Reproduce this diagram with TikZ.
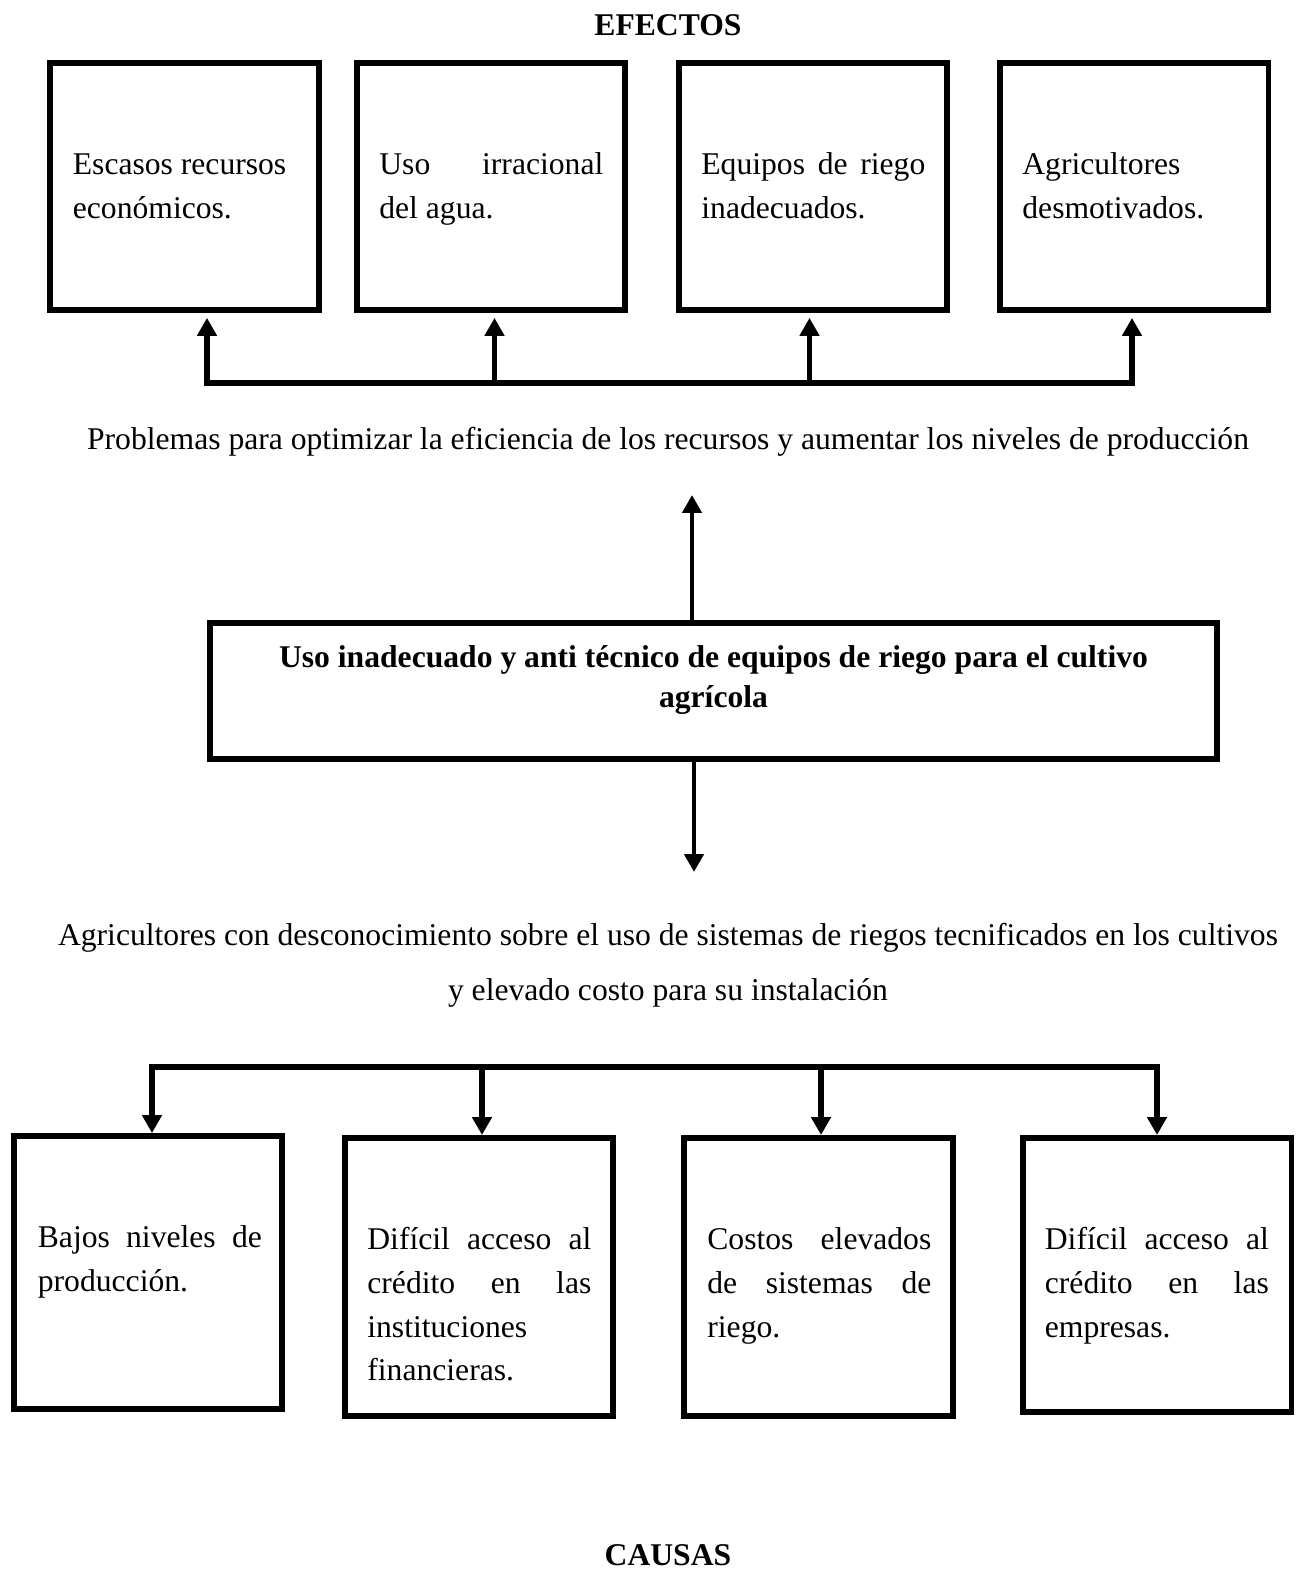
\documentclass[tikz,border=0pt]{standalone}
\usepackage{fontspec}
\setmainfont{Liberation Serif}
\usetikzlibrary{arrows.meta}
\tikzset{
  caja/.style={draw, line width=3.4pt, minimum width=5.38cm, inner sep=0pt},
  texto/.style={text width=4.48cm, align=justify, inner sep=0pt,
    font=\fontsize{18pt}{25pt}\selectfont},
  flecha/.style={line width=3.4pt, -{Triangle[width=10.8pt,length=10.2pt]}},
  flechac/.style={line width=2.5pt, -{Triangle[width=10.8pt,length=10.2pt]}},
  linea/.style={line width=3.4pt, line cap=rect}
}
\begin{document}
\begin{tikzpicture}[x=0.02cm,y=-0.02cm]
\useasboundingbox (0,0) rectangle (1297,1569);

% efectos
\node[anchor=base, font=\fontsize{18pt}{25pt}\selectfont\bfseries] (efectos) at (668,35) {EFECTOS};
\node[caja, minimum height=4.94cm] (e1) at (184.5,186.5) {};
\node[caja, minimum height=4.94cm] (e2) at (491,186.5) {};
\node[caja, minimum height=4.94cm] (e3) at (813,186.5) {};
\node[caja, minimum height=4.94cm] (e4) at (1134,186.5) {};
\node[texto, anchor=north west] (te1) at ([shift={(25.5,83)}]e1.north west) {\strut Escasos recursos\\ económicos.};
\node[texto, anchor=north west] (te2) at ([shift={(25.5,83)}]e2.north west) {\strut Uso irracional\linebreak del agua.};
\node[texto, anchor=north west] (te3) at ([shift={(25.5,83)}]e3.north west) {\strut Equipos de riego\linebreak inadecuados.};
\node[texto, anchor=north west] (te4) at ([shift={(25.5,83)}]e4.north west) {\strut Agricultores\\ desmotivados.};

\coordinate (b1) at (207,383);
\coordinate (b2) at (494.5,383);
\coordinate (b3) at (809.5,383);
\coordinate (b4) at (1132,383);
\draw[linea] (b1) -- (b4);
\draw[flecha, shorten >=2.8pt] (b1) -- (b1 |- e1.south);
\draw[flecha, shorten >=2.8pt] (b2) -- (b2 |- e2.south);
\draw[flecha, shorten >=2.8pt] (b3) -- (b3 |- e3.south);
\draw[flecha, shorten >=2.8pt] (b4) -- (b4 |- e4.south);

\node[anchor=base, font=\fontsize{18pt}{25pt}\selectfont] (prob) at (668,449) {Problemas para optimizar la eficiencia de los recursos y aumentar los niveles de producción};

% problema central
\node[caja, minimum width=20.14cm, minimum height=2.72cm] (m) at (713.5,691) {};
\node[anchor=north, align=center, inner sep=0pt,
  font=\fontsize{18pt}{23.2pt}\selectfont\bfseries] (mt) at (713.5,638.3)
  {\strut Uso inadecuado y anti técnico de equipos de riego para el cultivo\\ agrícola};
\coordinate (p1) at (692,495);
\coordinate (p2) at (694,872);
\draw[flechac] (m.north -| p1) -- (p1);
\draw[flechac] (m.south -| p2) -- (p2);

\node[anchor=north, align=center, inner sep=0pt,
  font=\fontsize{18pt}{31.2pt}\selectfont] (causa) at (668,906.5)
  {\strut Agricultores con desconocimiento sobre el uso de sistemas de riegos tecnificados en los cultivos\\ y elevado costo para su instalación};

% causas
\coordinate (c1) at (152,1067);
\coordinate (c2) at (482,1067);
\coordinate (c3) at (821,1067);
\coordinate (c4) at (1157,1067);
\node[caja, minimum height=5.46cm] (k1) at (148,1272.5) {};
\node[caja, minimum height=5.56cm] (k2) at (479,1277) {};
\node[caja, minimum height=5.56cm] (k3) at (818.5,1277) {};
\node[caja, minimum height=5.48cm] (k4) at (1157,1275) {};
\draw[linea] (c1) -- (c4);
\draw[flecha] (c1) -- (c1 |- k1.north);
\draw[flecha] (c2) -- (c2 |- k2.north);
\draw[flecha] (c3) -- (c3 |- k3.north);
\draw[flecha] (c4) -- (c4 |- k4.north);
\node[texto, anchor=north west] (tk1) at ([shift={(27,83)}]k1.north west) {\strut Bajos niveles de\linebreak producción.};
\node[texto, anchor=north west] (tk2) at ([shift={(25.5,83)}]k2.north west) {\strut Difícil acceso al\linebreak crédito en las\linebreak instituciones\\ financieras.};
\node[texto, anchor=north west] (tk3) at ([shift={(26,83)}]k3.north west) {\strut Costos elevados\linebreak de sistemas de\linebreak riego.};
\node[texto, anchor=north west] (tk4) at ([shift={(25,83)}]k4.north west) {\strut Difícil acceso al\linebreak crédito en las\linebreak empresas.};

\node[anchor=base, font=\fontsize{18pt}{25pt}\selectfont\bfseries] (causas) at (668,1565) {CAUSAS};
\end{tikzpicture}
\end{document}
